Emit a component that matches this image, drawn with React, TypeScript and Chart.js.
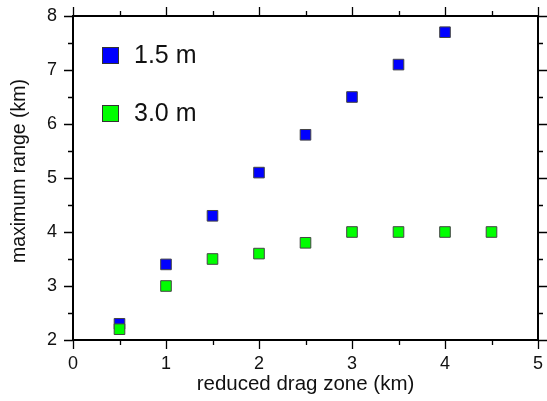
import React, { useEffect, useRef } from "react";
import { Chart, registerables } from "chart.js";

Chart.register(...registerables);

// ---- data ----
const dragZone15: number[] = [0.5, 1, 1.5, 2, 2.5, 3, 3.5, 4];
const maxRange15: number[] = [2.3, 3.4, 4.3, 5.1, 5.8, 6.5, 7.1, 7.7];
const dragZone30: number[] = [0.5, 1, 1.5, 2, 2.5, 3, 3.5, 4, 4.5];
const maxRange30: number[] = [2.2, 3.0, 3.5, 3.6, 3.8, 4.0, 4.0, 4.0, 4.0];
const seriesLabels: string[] = ["1.5 m", "3.0 m"];
const seriesColors: string[] = ["#0000ff", "#00ff00"];
const xMajorTicks: number[] = [0, 1, 2, 3, 4, 5];
const xMinorTicks: number[] = [0.5, 1.5, 2.5, 3.5, 4.5];
const yMajorTicks: number[] = [2, 3, 4, 5, 6, 7, 8];
const yMinorTicks: number[] = [2.5, 3.5, 4.5, 5.5, 6.5, 7.5];
const xTitle = "reduced drag zone (km)";
const yTitle = "maximum range (km)";

const FONT = "'Liberation Sans', Arial, Helvetica, sans-serif";

const framePlugin = {
  id: "gmtFrame",
  afterDraw(chart: any) {
    const { ctx, chartArea } = chart;
    const xs = chart.scales.x;
    const ys = chart.scales.y;
    const { left, right, top, bottom } = chartArea;
    ctx.save();
    ctx.strokeStyle = "#000";
    ctx.lineCap = "butt";
    // ticks
    ctx.lineWidth = 1.3;
    const major = 9;
    const minor = 5;
    const drawX = (v: number, len: number) => {
      const px = Math.round(xs.getPixelForValue(v)) + 0.5;
      ctx.beginPath();
      ctx.moveTo(px, bottom);
      ctx.lineTo(px, bottom + len);
      ctx.moveTo(px, top);
      ctx.lineTo(px, top - len);
      ctx.stroke();
    };
    const drawY = (v: number, len: number) => {
      const py = Math.round(ys.getPixelForValue(v)) + 0.5;
      ctx.beginPath();
      ctx.moveTo(left, py);
      ctx.lineTo(left - len, py);
      ctx.moveTo(right, py);
      ctx.lineTo(right + len, py);
      ctx.stroke();
    };
    xMajorTicks.forEach((v) => drawX(v, major));
    xMinorTicks.forEach((v) => drawX(v, minor));
    yMajorTicks.forEach((v) => drawY(v, major));
    yMinorTicks.forEach((v) => drawY(v, minor));
    // frame
    ctx.lineWidth = 2;
    ctx.strokeRect(left, top, right - left, bottom - top);

    // y-axis title
    ctx.save();
    ctx.translate(20, 171);
    ctx.rotate(-Math.PI / 2);
    ctx.font = `19.5px ${FONT}`;
    ctx.fillStyle = "#111";
    ctx.textAlign = "center";
    ctx.textBaseline = "middle";
    ctx.fillText(yTitle, 0, 0);
    ctx.restore();

    // legend
    const legendX = 102;
    const legendY = [47, 105];
    const box = 17;
    ctx.font = `25px ${FONT}`;
    ctx.textBaseline = "middle";
    ctx.textAlign = "left";
    chart.data.datasets.forEach((ds: any, i: number) => {
      const y0 = legendY[i];
      ctx.fillStyle = ds.backgroundColor;
      ctx.fillRect(legendX, y0, box, box);
      ctx.lineWidth = 1;
      ctx.strokeStyle = "#333";
      ctx.strokeRect(legendX + 0.5, y0 + 0.5, box - 1, box - 1);
      ctx.fillStyle = "#111";
      ctx.fillText(ds.label, 134, y0 + box / 2 + 1);
    });
    ctx.restore();
  },
};

export default function App() {
  const canvasRef = useRef<HTMLCanvasElement | null>(null);

  useEffect(() => {
    document.body.style.margin = "0";
    const canvas = canvasRef.current;
    if (!canvas) return;
    const chart = new Chart(canvas, {
      type: "scatter",
      data: {
        datasets: [
          {
            label: seriesLabels[0],
            data: dragZone15.map((x, i) => ({ x, y: maxRange15[i] })),
            backgroundColor: seriesColors[0],
            borderColor: "#444",
            borderWidth: 1,
            pointStyle: "rect",
            pointRadius: 7.5,
            order: 1,
          },
          {
            label: seriesLabels[1],
            data: dragZone30.map((x, i) => ({ x, y: maxRange30[i] })),
            backgroundColor: seriesColors[1],
            borderColor: "#444",
            borderWidth: 1,
            pointStyle: "rect",
            pointRadius: 7.5,
            order: 0,
          },
        ],
      },
      options: {
        responsive: false,
        animation: false,
        events: [],
        layout: { padding: { top: 16, right: 9, left: 0, bottom: 0 } },
        plugins: {
          legend: { display: false },
          tooltip: { enabled: false },
        },
        scales: {
          x: {
            type: "linear",
            position: "bottom",
            min: 0,
            max: 5,
            afterFit: (s: any) => {
              s.height = 61;
              s.paddingLeft = 0;
              s.paddingRight = 0;
            },
            afterBuildTicks: (s: any) => {
              s.ticks = xMajorTicks.map((v) => ({ value: v }));
            },
            grid: { display: false, drawTicks: false },
            border: { display: false },
            ticks: {
              color: "#111",
              font: { family: FONT, size: 18 },
              padding: 13,
              maxRotation: 0,
              callback: (v: any) => String(v),
            },
            title: {
              display: true,
              text: xTitle,
              color: "#111",
              font: { family: FONT, size: 20.5 },
              padding: { top: 0, bottom: 4 },
            },
          },
          y: {
            type: "linear",
            min: 2,
            max: 8,
            afterFit: (s: any) => {
              s.width = 73;
              s.paddingTop = 0;
              s.paddingBottom = 0;
            },
            afterBuildTicks: (s: any) => {
              s.ticks = yMajorTicks.map((v) => ({ value: v }));
            },
            grid: { display: false, drawTicks: false },
            border: { display: false },
            ticks: {
              color: "#111",
              font: { family: FONT, size: 18 },
              padding: 16,
              callback: (v: any) => String(v),
            },
            title: { display: false },
          },
        },
      },
      plugins: [framePlugin],
    });
    return () => chart.destroy();
  }, []);

  return (
    <div style={{ width: 547, height: 401 }}>
      <canvas ref={canvasRef} width={547} height={401} />
    </div>
  );
}
